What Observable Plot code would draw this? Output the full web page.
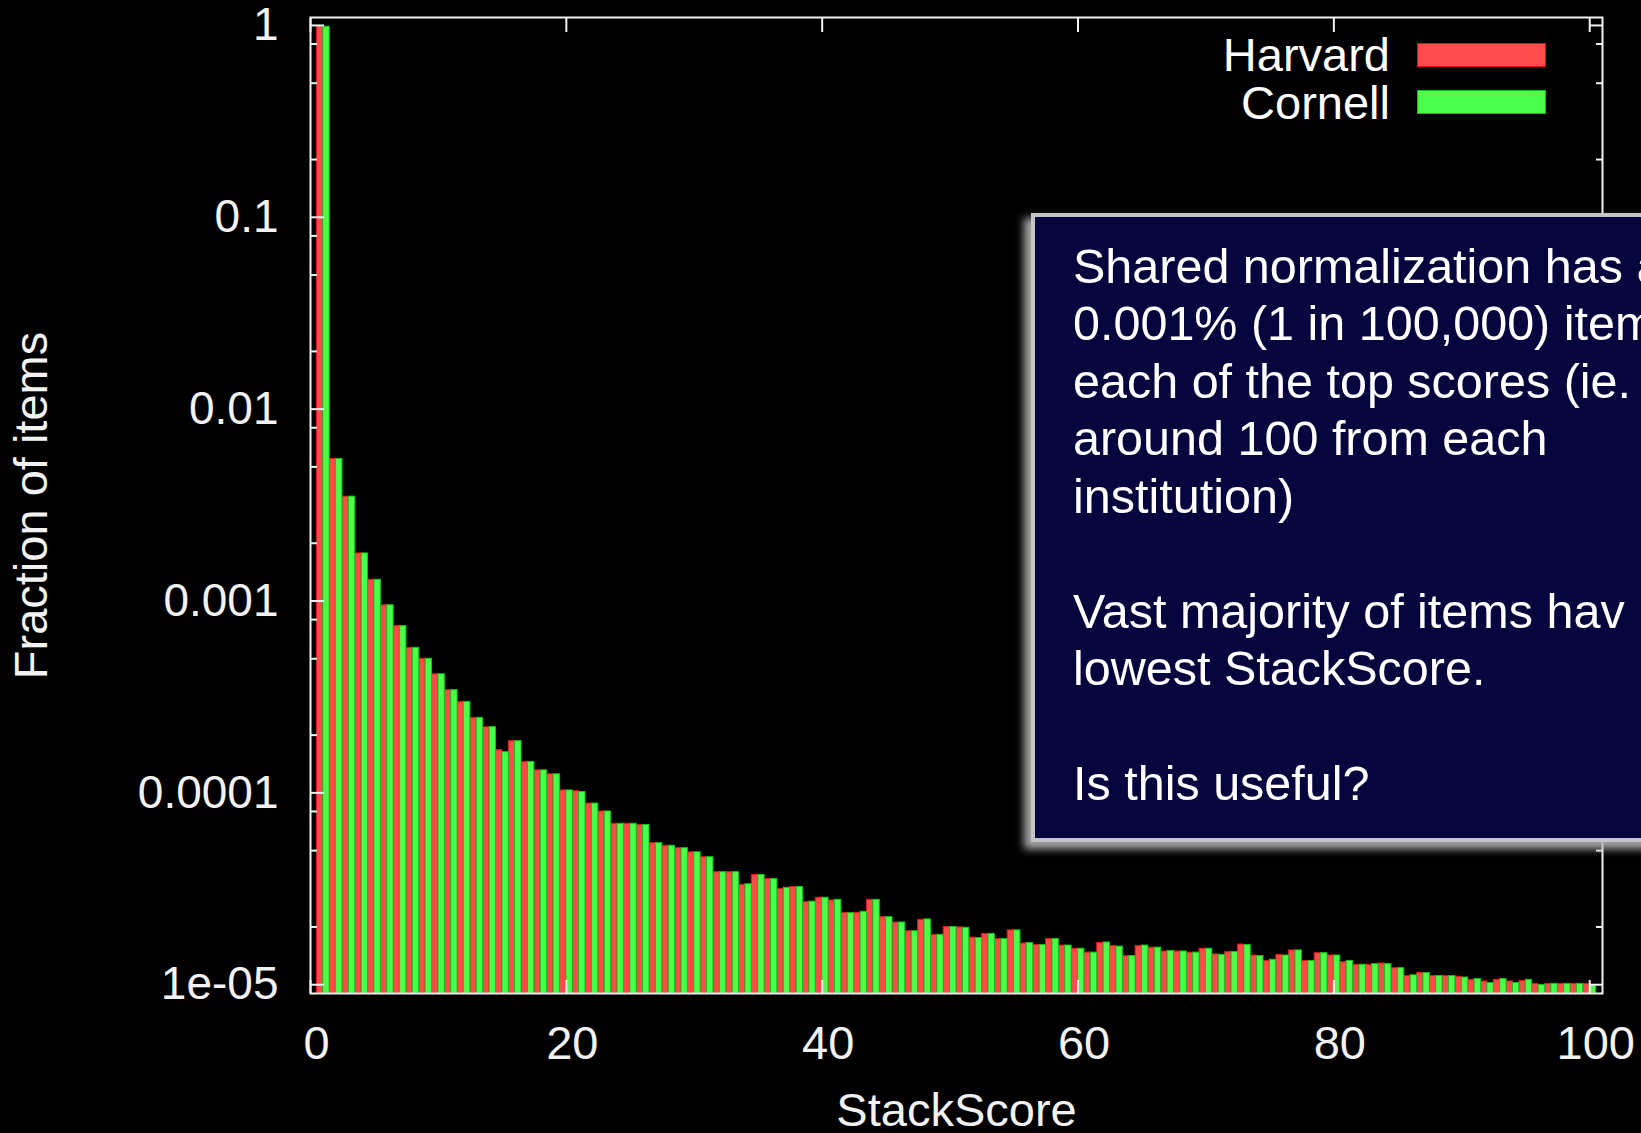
<!DOCTYPE html>
<html>
<head>
<meta charset="utf-8">
<script src="https://cdn.jsdelivr.net/npm/d3@7"></script>
<script src="https://cdn.jsdelivr.net/npm/@observablehq/plot@0.6"></script>
<style>
  html, body { margin: 0; padding: 0; background: #000; overflow: hidden; }
  #wrap { position: relative; width: 1641px; height: 1133px; overflow: hidden; background: #000; }
  #chart { position: absolute; left: 0; top: 0; }
  .leg-label { position: absolute; left: 0; width: 1390px; text-align: right; color: #fff;
               font: 47px "Liberation Sans", Arial, sans-serif; line-height: 47px; white-space: pre; }
  .leg-swatch { position: absolute; left: 1417px; width: 129px; height: 24px; box-sizing: border-box; }
  #note { position: absolute; left: 1031px; top: 213px; width: 720px; height: 629px; box-sizing: border-box;
          background: #07053d; border: 4px solid #c4c4c4;
          box-shadow: -6px 6px 8px 1px rgba(185,185,185,0.9); }
  #note-text { position: absolute; left: 1073px; top: 237.5px; color: #fff; white-space: pre;
               font: 48.5px "Liberation Sans", Arial, sans-serif; line-height: 57.5px; }
</style>
</head>
<body>
<div id="wrap">
  <div id="chart"></div>
  <div class="leg-label" id="leg-h" style="top:31px"></div>
  <div class="leg-label" id="leg-c" style="top:79px"></div>
  <div class="leg-swatch" style="top:43px;background:#ff4c4c;border:1.5px solid #e01010"></div>
  <div class="leg-swatch" style="top:90px;background:#4cff4c;border:1.5px solid #10c010"></div>
  <div id="note"></div>
  <div id="note-text"></div>
</div>
<script>
// ---- data ----
const scores = [
  1, 2, 3, 4, 5, 6, 7, 8, 9, 10,
  11, 12, 13, 14, 15, 16, 17, 18, 19, 20,
  21, 22, 23, 24, 25, 26, 27, 28, 29, 30,
  31, 32, 33, 34, 35, 36, 37, 38, 39, 40,
  41, 42, 43, 44, 45, 46, 47, 48, 49, 50,
  51, 52, 53, 54, 55, 56, 57, 58, 59, 60,
  61, 62, 63, 64, 65, 66, 67, 68, 69, 70,
  71, 72, 73, 74, 75, 76, 77, 78, 79, 80,
  81, 82, 83, 84, 85, 86, 87, 88, 89, 90,
  91, 92, 93, 94, 95, 96, 97, 98, 99, 100
];
const harvard = [
  0.99, 0.0055, 0.0035, 0.00177, 0.00129, 0.00095, 0.00074, 0.00057, 0.00050, 0.000415,
  0.000343, 0.000298, 0.000246, 0.000220, 0.000167, 0.000186, 0.000145, 0.000131, 0.000125, 0.000103,
  0.000102, 8.8e-5, 8.0e-5, 6.9e-5, 6.9e-5, 6.8e-5, 5.47e-5, 5.3e-5, 5.15e-5, 4.9e-5,
  4.62e-5, 3.86e-5, 3.86e-5, 3.32e-5, 3.73e-5, 3.56e-5, 3.16e-5, 3.23e-5, 2.70e-5, 2.84e-5,
  2.75e-5, 2.37e-5, 2.37e-5, 2.77e-5, 2.25e-5, 2.11e-5, 1.90e-5, 2.18e-5, 1.82e-5, 2.00e-5,
  1.99e-5, 1.76e-5, 1.84e-5, 1.73e-5, 1.92e-5, 1.64e-5, 1.61e-5, 1.73e-5, 1.60e-5, 1.54e-5,
  1.47e-5, 1.65e-5, 1.59e-5, 1.41e-5, 1.59e-5, 1.56e-5, 1.49e-5, 1.49e-5, 1.47e-5, 1.54e-5,
  1.44e-5, 1.48e-5, 1.62e-5, 1.42e-5, 1.33e-5, 1.43e-5, 1.51e-5, 1.33e-5, 1.46e-5, 1.42e-5,
  1.31e-5, 1.27e-5, 1.27e-5, 1.29e-5, 1.22e-5, 1.11e-5, 1.15e-5, 1.11e-5, 1.11e-5, 1.10e-5,
  1.06e-5, 1.04e-5, 1.06e-5, 1.04e-5, 1.045e-5, 1.01e-5, 1.01e-5, 1.01e-5, 1.01e-5, 1.01e-5
];
const cornell = [
  0.985, 0.0055, 0.0035, 0.00177, 0.00129, 0.00095, 0.00074, 0.00057, 0.00050, 0.000415,
  0.000343, 0.000298, 0.000246, 0.000220, 0.000163, 0.000186, 0.000145, 0.000131, 0.000125, 0.000103,
  0.000101, 8.8e-5, 8.0e-5, 6.9e-5, 6.9e-5, 6.8e-5, 5.47e-5, 5.3e-5, 5.15e-5, 4.9e-5,
  4.62e-5, 3.86e-5, 3.86e-5, 3.34e-5, 3.73e-5, 3.56e-5, 3.20e-5, 3.23e-5, 2.71e-5, 2.84e-5,
  2.77e-5, 2.36e-5, 2.40e-5, 2.77e-5, 2.25e-5, 2.11e-5, 1.90e-5, 2.19e-5, 1.82e-5, 2.00e-5,
  1.98e-5, 1.75e-5, 1.84e-5, 1.73e-5, 1.92e-5, 1.65e-5, 1.61e-5, 1.73e-5, 1.60e-5, 1.54e-5,
  1.47e-5, 1.66e-5, 1.58e-5, 1.41e-5, 1.60e-5, 1.56e-5, 1.50e-5, 1.49e-5, 1.47e-5, 1.54e-5,
  1.43e-5, 1.48e-5, 1.61e-5, 1.41e-5, 1.35e-5, 1.42e-5, 1.51e-5, 1.33e-5, 1.46e-5, 1.42e-5,
  1.33e-5, 1.27e-5, 1.28e-5, 1.28e-5, 1.22e-5, 1.12e-5, 1.15e-5, 1.11e-5, 1.11e-5, 1.09e-5,
  1.07e-5, 1.02e-5, 1.07e-5, 1.02e-5, 1.06e-5, 0.996e-5, 1.01e-5, 1.01e-5, 1.01e-5, 0.996e-5
];
const seriesNames = ["Harvard", "Cornell"];
const xTickValues = [0, 20, 40, 60, 80, 100];
const yTickValues = [1e-5, 1e-4, 1e-3, 1e-2, 1e-1, 1];
const yTickLabels = ["1e-05", "0.0001", "0.001", "0.01", "0.1", "1"];
const yMinorMultipliers = [2, 5, 8];
const xTitle = "StackScore";
const yTitle = "Fraction of items";
const noteLines = [
  "Shared normalization has a",
  "0.001% (1 in 100,000) item",
  "each of the top scores (ie.",
  "around 100 from each",
  "institution)",
  "",
  "Vast majority of items hav",
  "lowest StackScore.",
  "",
  "Is this useful?"
];

// ---- scale settings ----
const xDomain = [0, 101];
const yDomain = [9e-6, 1.1];
const barWidth = 0.5;

const yMinorTicks = yTickValues.slice(0, -1).flatMap(d => yMinorMultipliers.map(m => m * d));
const harvardRows = scores.map((s, i) => ({score: s, value: harvard[i]}));
const cornellRows = scores.map((s, i) => ({score: s, value: cornell[i]}));
const yLabel = d => yTickLabels[Math.round(Math.log10(d)) + 5];

const white = "#f2f2f2";
const chart = Plot.plot({
  width: 1641,
  height: 1133,
  marginLeft: 310,
  marginRight: 39,
  marginTop: 17,
  marginBottom: 140,
  style: {background: "#000", color: white, fontFamily: "'Liberation Sans', Arial, sans-serif"},
  x: {domain: xDomain},
  y: {type: "log", domain: yDomain},
  marks: [
    Plot.rect(harvardRows, {
      x1: d => d.score - barWidth, x2: d => d.score,
      y1: () => yDomain[0], y2: "value",
      fill: "#ff4a4a", stroke: "#e41414", strokeWidth: 1
    }),
    Plot.rect(cornellRows, {
      x1: d => d.score, x2: d => d.score + barWidth,
      y1: () => yDomain[0], y2: "value",
      fill: "#4cff4c", stroke: "#12c412", strokeWidth: 1
    }),
    // inward tick marks on all four sides
    Plot.axisY(yTickValues, {anchor: "left", tickSize: -14, fill: "none", stroke: white, strokeWidth: 2, label: null}),
    Plot.axisY(yMinorTicks, {anchor: "left", tickSize: -7, fill: "none", stroke: white, strokeWidth: 2, label: null}),
    Plot.axisY(yTickValues, {anchor: "right", tickSize: -14, fill: "none", stroke: white, strokeWidth: 2, label: null}),
    Plot.axisY(yMinorTicks, {anchor: "right", tickSize: -7, fill: "none", stroke: white, strokeWidth: 2, label: null}),
    Plot.axisX(xTickValues, {anchor: "bottom", tickSize: -13, fill: "none", stroke: white, strokeWidth: 2, label: null}),
    Plot.axisX(xTickValues, {anchor: "top", tickSize: -14, fill: "none", stroke: white, strokeWidth: 2, label: null}),
    // tick labels
    Plot.axisY(yTickValues, {anchor: "left", tickSize: 0, tickPadding: 32, tickFormat: yLabel, fontSize: 46, fill: white, label: null}),
    Plot.axisX(xTickValues, {anchor: "bottom", tickSize: 0, tickPadding: 32, tickFormat: d => String(d), fontSize: 47, dx: 6, fill: white, label: null}),
    Plot.frame({stroke: white, strokeWidth: 2}),
    // axis titles
    Plot.text([xTitle], {text: d => d, frameAnchor: "bottom", dy: 132, fontSize: 47, fill: white}),
    Plot.text([yTitle], {text: d => d, frameAnchor: "left", textAnchor: "middle", rotate: -90, dx: -279, fontSize: 47, fill: white})
  ]
});
document.getElementById("chart").appendChild(chart);

document.getElementById("leg-h").textContent = seriesNames[0];
document.getElementById("leg-c").textContent = seriesNames[1];
document.getElementById("note-text").textContent = noteLines.join("\n");
</script>
</body>
</html>
